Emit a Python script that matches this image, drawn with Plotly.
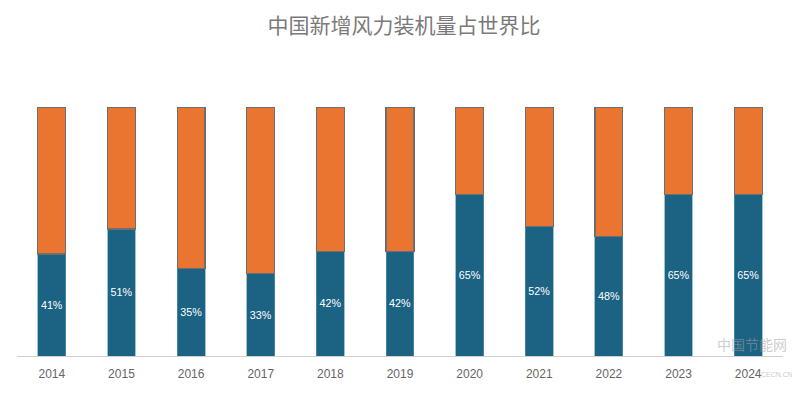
import plotly.graph_objects as go

years = ["2014", "2015", "2016", "2017", "2018", "2019", "2020", "2021", "2022", "2023", "2024"]
china_share = [41, 51, 35, 33, 42, 42, 65, 52, 48, 65, 65]
rest_share = [100 - v for v in china_share]
labels = [f"{v}%" for v in china_share]

fig = go.Figure()
fig.add_trace(go.Bar(
    x=years, y=china_share, name="中国",
    marker=dict(color="#1B6283", line=dict(color="#5C9CB8", width=0.6)),
    text=labels, textposition="inside", insidetextanchor="middle", textangle=0,
    textfont=dict(color="white", size=12, family="Liberation Sans, Arial"),
    hoverinfo="x+y",
))
fig.add_trace(go.Bar(
    x=years, y=rest_share, name="其他",
    marker=dict(color="#EA7531", line=dict(color="#6E6E6E", width=1.2)),
    hoverinfo="x+y",
))

# the page places the figure 8px from the top-left corner
fig.update_layout(
    barmode="stack",
    bargap=0.6,
    width=792, height=385,
    margin=dict(l=9, r=17, t=99, b=37),
    paper_bgcolor="white", plot_bgcolor="white",
    showlegend=False,
    uniformtext=dict(minsize=7, mode="show"),
    title=dict(text="中国新增风力装机量占世界比", x=0.5, xanchor="center", y=1 - 18/385, yanchor="middle",
               font=dict(size=21, color="#7A7A7A", family="Noto Sans CJK SC")),
    xaxis=dict(showline=True, linecolor="#D0D0D0", linewidth=1,
               ticks="outside", ticklen=7, tickcolor="rgba(0,0,0,0)",
               tickfont=dict(size=12, color="#666666", family="Liberation Sans, Arial"),
               showgrid=False),
    yaxis=dict(range=[0, 100], showticklabels=False, showgrid=False, zeroline=False, showline=False),
    annotations=[
        dict(text="中国节能网", xref="paper", yref="paper", x=1.008, y=0.0, xanchor="right", yanchor="bottom",
             showarrow=False, font=dict(size=14, color="rgba(160,160,160,0.55)", family="Noto Sans CJK SC")),
        dict(text="CECN.CN", xref="paper", yref="paper", x=1.016, y=-0.075, xanchor="right", yanchor="middle",
             showarrow=False, font=dict(size=7, color="rgba(160,160,160,0.6)", family="Liberation Sans")),
    ],
)

fig.write_html("out.html")
